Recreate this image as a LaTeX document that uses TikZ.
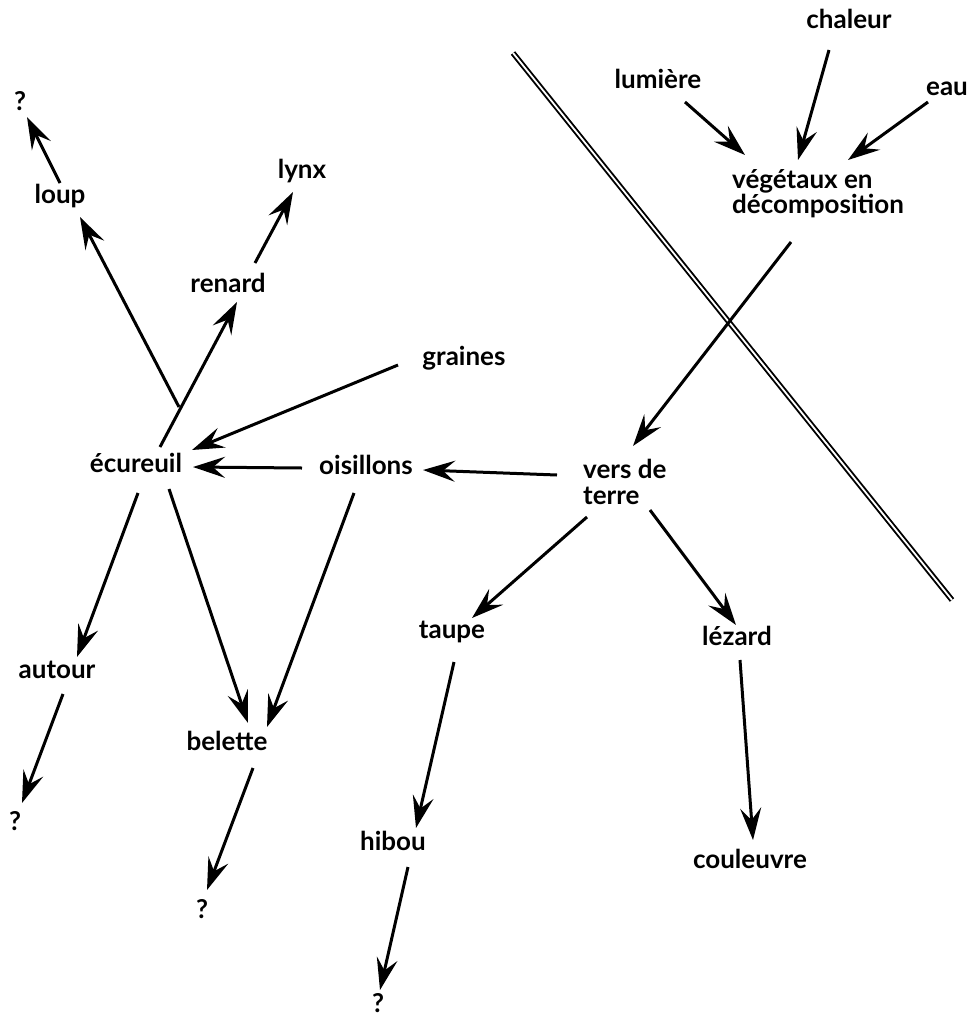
\documentclass[tikz,border=0pt]{standalone}
\usepackage{fontspec}
\setmainfont{Lato}
\usetikzlibrary{arrows.meta,calc}
\begin{document}
\begin{tikzpicture}[x=1pt,y=-1pt,
  lbl/.style={inner sep=0pt,anchor=base,font=\bfseries\fontsize{26}{26}\selectfont},
  lbl2/.style={lbl,anchor=north west,align=left},
  link/.style={line width=3pt,-{Stealth[length=32pt,width=21pt,inset=12pt]}},
  barrier/.style={double,line width=1.9pt,double distance=1.8pt}]
\useasboundingbox (0,0) rectangle (973,1018);

% labels
\node[lbl] (qA) at (20,110) {?};
\node[lbl] (loup) at (60,203) {loup};
\node[lbl] (lynx) at (302,178) {lynx};
\node[lbl] (renard) at (228,292) {renard};
\node[lbl] (graines) at (464,365) {graines};
\node[lbl] (ecureuil) at (136,472) {écureuil};
\node[lbl] (oisillons) at (366,474) {oisillons};
\node[lbl2] (vers) at (583,459) {vers de\\terre};
\node[lbl] (lumiere) at (658,88) {lumière};
\node[lbl] (chaleur) at (849,28) {chaleur};
\node[lbl] (eau) at (947,95) {eau};
\node[lbl2,font=\bfseries\fontsize{26}{24}\selectfont] (veg) at (732,169) {végétaux en\\décomposition};
\node[lbl] (autour) at (57,678) {autour};
\node[lbl] (belette) at (227,750) {belette};
\node[lbl] (qB) at (15,830) {?};
\node[lbl] (qC) at (202,918) {?};
\node[lbl] (taupe) at (452,638) {taupe};
\node[lbl] (lezard) at (737,645) {lézard};
\node[lbl] (hibou) at (393,850) {hibou};
\node[lbl] (couleuvre) at (750,868) {couleuvre};
\node[lbl] (qD) at (378,1012) {?};

% barrier line
\draw[barrier] (513,53) -- (952,600);

% food links
\draw[link] ($(loup.base)+(0,-20)$) -- ($(qA.base)+(7,7)$);
\draw[link] ($(ecureuil.base)+(43,-65)$) -- ($(loup.base)+(20,14)$);
\draw[link] ($(ecureuil.base)+(24,-25)$) -- ($(renard.base)+(9,10)$);
\draw[link] ($(renard.base)+(27,-29)$) -- ($(lynx.base)+(-9,14)$);
\draw[link] ($(graines.base)+(-66,0)$) -- ($(ecureuil.base)+(56,-22)$);
\draw[link] ($(oisillons.base)+(-64,-6)$) -- ($(ecureuil.base)+(57,-5)$);
\draw[link] ($(vers.north west)+(-26,16)$) -- ($(oisillons.base)+(57,-4)$);
\draw[link] ($(veg.north west)+(59,73)$) -- ($(vers.north west)+(50,-13)$);
\draw[link] ($(lumiere.base)+(27,14)$) -- ($(veg.north west)+(13,-14)$);
\draw[link] ($(chaleur.base)+(-20,22)$) -- ($(veg.north west)+(66,-9)$);
\draw[link] ($(eau.base)+(-19,7)$) -- ($(veg.north west)+(116,-9)$);
\draw[link] ($(ecureuil.base)+(2,21)$) -- ($(autour.base)+(20,-21)$);
\draw[link] ($(ecureuil.base)+(33,17)$) -- ($(belette.base)+(21,-27)$);
\draw[link] ($(oisillons.base)+(-12,19)$) -- ($(belette.base)+(40,-23)$);
\draw[link] ($(autour.base)+(6,16)$) -- ($(qB.base)+(7,-27)$);
\draw[link] ($(belette.base)+(26,18)$) -- ($(qC.base)+(5,-28)$);
\draw[link] ($(vers.north west)+(4,58)$) -- ($(taupe.base)+(20,-20)$);
\draw[link] ($(vers.north west)+(67,51)$) -- ($(lezard.base)+(-1,-20)$);
\draw[link] ($(taupe.base)+(2,24)$) -- ($(hibou.base)+(23,-22)$);
\draw[link] ($(lezard.base)+(3,15)$) -- ($(couleuvre.base)+(3,-28)$);
\draw[link] ($(hibou.base)+(15,17)$) -- ($(qD.base)+(2,-22)$);
\end{tikzpicture}
\end{document}
